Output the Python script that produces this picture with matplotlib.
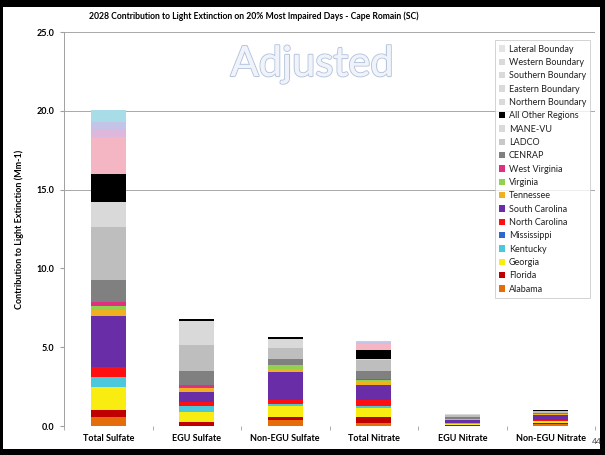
import matplotlib
matplotlib.use("Agg")
import matplotlib.pyplot as plt
import matplotlib.patheffects as pe
from matplotlib.patches import Patch, Rectangle
import numpy as np

categories = ["Total Sulfate", "EGU Sulfate", "Non-EGU Sulfate", "Total Nitrate", "EGU Nitrate", "Non-EGU Nitrate"]

sources = ["Alabama", "Florida", "Georgia", "Kentucky", "Mississippi", "North Carolina",
           "South Carolina", "Tennessee", "Virginia", "West Virginia", "CENRAP", "LADCO",
           "MANE-VU", "All Other Regions", "Northern Boundary", "Eastern Boundary",
           "Southern Boundary", "Western Boundary", "Lateral Bounday"]

alabama = [0.57, 0.03, 0.35, 0.20, 0.03, 0.12]
florida = [0.42, 0.20, 0.25, 0.35, 0.05, 0.08]
georgia = [1.48, 0.67, 0.68, 0.57, 0.05, 0.12]
kentucky = [0.63, 0.36, 0.10, 0.15, 0.03, 0.02]
mississippi = [0.02, 0.01, 0.01, 0.01, 0.00, 0.00]
north_carolina = [0.63, 0.27, 0.25, 0.38, 0.05, 0.06]
south_carolina = [3.22, 0.63, 1.80, 0.95, 0.20, 0.30]
tennessee = [0.38, 0.21, 0.15, 0.27, 0.03, 0.04]
virginia = [0.25, 0.05, 0.25, 0.05, 0.01, 0.02]
west_virginia = [0.27, 0.19, 0.05, 0.03, 0.01, 0.01]
cenrap = [1.42, 0.86, 0.36, 0.50, 0.10, 0.08]
ladco = [3.34, 1.69, 0.70, 0.70, 0.12, 0.08]
mane_vu = [1.59, 1.48, 0.55, 0.06, 0.08, 0.04]
all_other = [1.76, 0.15, 0.15, 0.63, 0.03, 0.03]
northern_bc = [2.37, 0.00, 0.00, 0.36, 0.00, 0.00]
eastern_bc = [0.50, 0.00, 0.00, 0.05, 0.00, 0.00]
southern_bc = [0.45, 0.00, 0.00, 0.05, 0.00, 0.00]
western_bc = [0.74, 0.00, 0.00, 0.10, 0.00, 0.00]
lateral_bc = [0.00, 0.00, 0.00, 0.00, 0.00, 0.00]

series = [alabama, florida, georgia, kentucky, mississippi, north_carolina, south_carolina,
          tennessee, virginia, west_virginia, cenrap, ladco, mane_vu, all_other,
          northern_bc, eastern_bc, southern_bc, western_bc, lateral_bc]

colors = ["#E46C0A", "#C00000", "#F8EC10", "#4BC8DC", "#3366CC", "#FF1010",
          "#6A2DA8", "#F0B020", "#92D050", "#E0307F", "#808080", "#BEBEBE",
          "#D9D9D9", "#000000", "#F4B6C2", "#DDB8DC", "#C4C4E8", "#A8DDE8", "#E8F4F8"]
legend_colors = colors[:11] + ["#C8C8C8", "#DADADA", "#000000", "#DADADA", "#DADADA",
                               "#DADADA", "#DADADA", "#E4E4E4"]

yticks = [0, 5, 10, 15, 20, 25]

plt.rcParams['font.family'] = ['Lato', 'DejaVu Sans']

fig = plt.figure(figsize=(6.05, 4.55), dpi=100)
fig.patch.set_facecolor("black")
W, H = 605, 455
fig.patches.append(Rectangle((3 / W, 1 - 449 / H), 597 / W, 442 / H, transform=fig.transFigure,
                             facecolor="white", edgecolor="none", zorder=-10))

ax = fig.add_axes([64 / W, 1 - 426 / H, 531 / W, 394 / H])
ax.set_facecolor("none")
x = np.arange(len(categories))
bottom = np.zeros(len(categories))
for vals, c in zip(series, colors):
    ax.bar(x, vals, width=0.4, bottom=bottom, color=c, edgecolor="none", zorder=2)
    bottom += np.array(vals)

ax.set_xlim(-0.5, len(categories) - 0.5)
ax.set_ylim(0, 25)
ax.set_yticks(yticks)
ax.set_yticklabels([f"{v:.1f}" for v in yticks], fontsize=6.5, fontweight="bold")
ax.set_xticks(x)
ax.set_xticklabels(categories, fontsize=6.5, fontweight="bold")
ax.tick_params(axis="x", length=0, pad=6)
ax.set_xticks(np.arange(-0.5, len(categories), 1), minor=True)
ax.tick_params(axis="x", which="minor", length=3, color="#A0A0A0", direction="out")
ax.tick_params(axis="y", length=3, color="#A0A0A0", pad=4)
for y in [15, 20, 25]:
    ax.axhline(y, color="#A8A8A8", linewidth=0.7, zorder=1)
for s in ["top", "right", "bottom"]:
    ax.spines[s].set_visible(False)
ax.spines["left"].set_color("#A0A0A0")
ax.spines["left"].set_linewidth(0.7)

ax.set_ylabel("Contribution to Light Extinction (Mm-1)", fontsize=6.5, fontweight="bold", labelpad=9)

handles = [Patch(facecolor=c, edgecolor="none", label=s) for s, c in zip(sources, legend_colors)]
leg = ax.legend(handles=handles[::-1], loc="upper right", bbox_to_anchor=(1.0, 0.99),
                fontsize=6.5, frameon=True, fancybox=False, handlelength=0.7, handleheight=0.7,
                handletextpad=0.45, labelspacing=0.48, borderpad=0.45)
leg.get_frame().set_edgecolor("#C0C0C0")
leg.get_frame().set_linewidth(0.6)
for t in leg.get_texts():
    t.set_color("#202020")

fig.text(254 / W, 1 - 16 / H, "2028 Contribution to Light Extinction on 20% Most Impaired Days - Cape Romain (SC)",
         ha="center", va="center", fontsize=6.2, fontweight="bold")

wm = fig.text(312 / W, 1 - 64 / H, "Adjusted", ha="center", va="center", fontsize=30,
              color="#F0F4FA", fontweight="normal")
wm.set_path_effects([pe.withStroke(linewidth=1.6, foreground="#B8C6DE"), pe.Normal()])

fig.text(597 / W, 1 - 442 / H, "44", ha="center", va="center", fontsize=6, color="#404040")

fig.savefig("out.png", dpi=100, facecolor=fig.get_facecolor())
